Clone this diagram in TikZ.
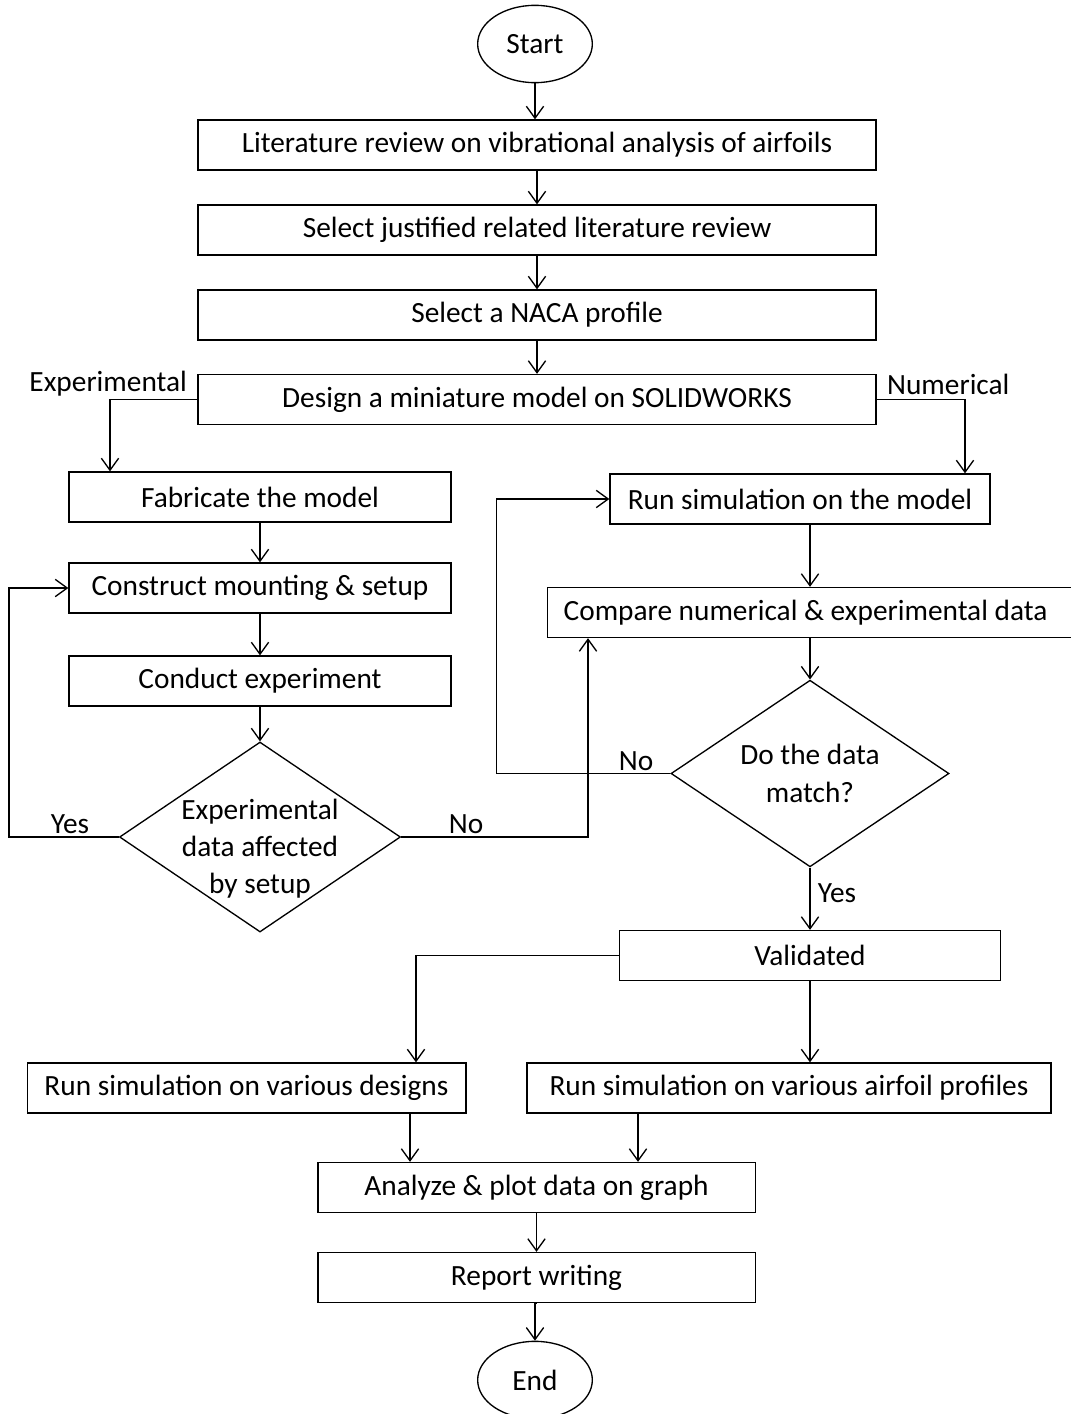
\documentclass[tikz,border=0pt]{standalone}
\usepackage{fontspec}
\setmainfont{Carlito}
\usepackage{tikz}
\usetikzlibrary{shapes.geometric, arrows.meta, positioning, calc}

\begin{document}
\begin{tikzpicture}[x=0.75pt, y=-0.75pt, line width=1pt,
    >={Straight Barb[length=9pt,width=13pt]},
    every node/.style={font=\fontsize{22}{28}\selectfont},
    procbox/.style={draw, rectangle, minimum height=37.5pt, inner sep=0pt},
    termin/.style={draw, ellipse, minimum width=86pt, minimum height=58pt, inner sep=0pt},
    decide/.style={draw, diamond, inner sep=-20pt, align=center}]
    \useasboundingbox (0,0) rectangle (1071,1414);

    % Main chain
    \node[termin] (start) at (535,44) {Start};
    \node[procbox, minimum width=508.5pt] (lit) at (537,145) {Literature review on vibrational analysis of airfoils};
    \node[procbox, minimum width=508.5pt] (sel) at (537,230) {Select justified related literature review};
    \node[procbox, minimum width=508.5pt] (naca) at (537,315) {Select a NACA profile};
    \node[procbox, minimum width=508.5pt] (design) at (537,399.5) {Design a miniature model on SOLIDWORKS};
    \node[anchor=east] (lexp) at (192,384) {Experimental};
    \node[anchor=west] (lnum) at (882,384) {Numerical};

    % Experimental side
    \node[procbox, minimum width=286.5pt] (fab) at (260,497) {Fabricate the model};
    \node[procbox, minimum width=286.5pt] (mount) at (260,588) {Construct mounting \& setup};
    \node[procbox, minimum width=286.5pt] (cond) at (260,681) {Conduct experiment};
    \node[decide, minimum width=210.75pt, minimum height=142.5pt] (affect) at (260,837) {\rule{0pt}{33pt}Experimental\\data affected\\by setup};
    \node (lyes1) at (70,824) {Yes};
    \node (lno1) at (466,824) {No};

    % Numerical side
    \node[procbox, minimum width=285pt] (sim) at (800,499) {Run simulation on the model};
    \node[procbox, anchor=west, text width=375.75pt, inner xsep=12pt, align=flush left] (cmp) at (547,612.5) {Compare numerical \& experimental data};
    \node[decide, minimum width=208.5pt, minimum height=140pt] (match) at (810,773.5) {Do the data\\match?};
    \node (lno2) at (636,761) {No};
    \node (lyes2) at (837,893) {Yes};
    \node[procbox, minimum width=285.75pt] (val) at (810,955.5) {Validated};

    % Final stage
    \node[procbox, minimum width=329pt] (des) at (246.5,1088) {Run simulation on various designs};
    \node[procbox, minimum width=393pt] (air) at (789,1088) {Run simulation on various airfoil profiles};
    \node[procbox, minimum width=328pt] (ana) at (536.5,1187.5) {Analyze \& plot data on graph};
    \node[procbox, minimum width=328pt] (rep) at (536.5,1277.5) {Report writing};
    \node[termin] (end) at (535,1380) {End};

    \coordinate (desout) at ($(des.south)+(163.5,0)$);
    \coordinate (airout) at ($(air.south)+(-151,0)$);

    % Arrows
    \draw[->] (start.south) -- (start.south |- lit.north);
    \draw[->] (lit) -- (sel);
    \draw[->] (sel) -- (naca);
    \draw[->] (naca) -- (design);
    \draw[->] (design.west) -| ($(fab.north)+(-150,0)$);
    \draw[->] (design.east) -| ($(sim.north)+(165,0)$);
    \draw[->] (fab) -- (mount);
    \draw[->] (mount) -- (cond);
    \draw[->] (cond) -- (affect);
    \draw[->] (affect.west) -- ++(-110,0) |- (mount.west);
    \draw[->] (affect.east) -| ($(cmp.south west)+(41,0)$);
    \draw[->] (match.north |- sim.south) -- (match.north |- cmp.north);
    \draw[->] (match.north |- cmp.south) -- (match.north);
    \draw[->] (match.west) -- ++(-174,0) |- (sim.west);
    \draw[->] (match) -- (val);
    \draw[->] (val.west) -| ($(des.north)+(169.5,0)$);
    \draw[->] (val.south) -- (val.south |- air.north);
    \draw[->] (desout) -- (desout |- ana.north);
    \draw[->] (airout) -- (airout |- ana.north);
    \draw[->] (ana) -- (rep);
    \draw[->] (rep.south) -- (rep.south -| end.north) -- (end.north);
\end{tikzpicture}
\end{document}
